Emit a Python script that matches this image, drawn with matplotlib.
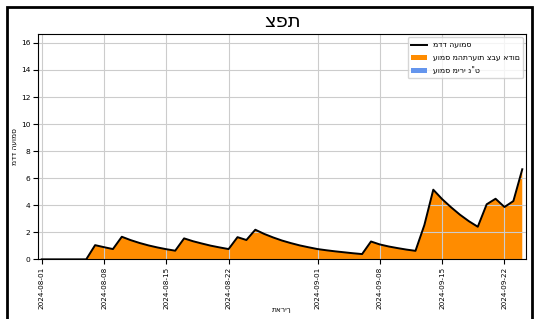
import pandas as pd
import numpy as np
import matplotlib
matplotlib.use("Agg")
import matplotlib.pyplot as plt
import matplotlib.dates as mdates
from matplotlib.patches import Rectangle

dates = pd.date_range("2024-08-01", "2024-09-24", freq="D")

# עומס מהתרעות צבע אדום (daily values)
red_alert = [0, 0, 0, 0, 0, 0,
             1.05, 0.9, 0.76, 1.67, 1.42, 1.21, 1.03, 0.88, 0.75, 0.64,
             1.55, 1.34, 1.17, 1.01, 0.88, 0.76,
             1.64, 1.43, 2.19, 1.88, 1.62, 1.39, 1.20, 1.03, 0.89, 0.76,
             0.67, 0.59, 0.52, 0.45, 0.39,
             1.32, 1.1, 0.95, 0.83, 0.72, 0.63,
             2.54, 5.15, 4.45, 3.85, 3.3, 2.82, 2.41,
             4.07, 4.48, 3.87, 4.31, 6.66]
# עומס מירי נ"ט
at_fire = [0] * len(red_alert)
load_index = [r + a for r, a in zip(red_alert, at_fire)]

fig = plt.figure(figsize=(5.36, 3.19), dpi=100)
ax = fig.add_axes([0.0709, 0.187, 0.9104, 0.706])

ax.stackplot(dates, red_alert, at_fire, colors=['#ff8c00', 'cornflowerblue'],
             labels=['עומס מהתרעות צבע אדום', 'עומס מירי נ"ט'])
ax.plot(dates, load_index, color='black', linewidth=1.4, label='מדד העומס')

ax.set_xlim(dates[0] - pd.Timedelta(hours=10), dates[-1] + pd.Timedelta(hours=10))
ax.set_ylim(0, 16.65)
ax.xaxis.set_major_locator(mdates.DayLocator(bymonthday=[1, 8, 15, 22]))
ax.xaxis.set_major_formatter(mdates.DateFormatter('%Y-%m-%d'))
ax.set_yticks(range(0, 17, 2))
ax.tick_params(axis='x', labelsize=5.2, rotation=90, pad=2)
ax.tick_params(axis='y', labelsize=5.4, pad=2)
ax.grid(True, color='#cccccc', linewidth=0.8)

ax.set_title('צפת', fontsize=14, pad=5)
ax.set_xlabel('תאריך', fontsize=5.4)
ax.xaxis.set_label_coords(0.5, -0.21)
ax.set_ylabel('מדד העומס', fontsize=5.4)
ax.yaxis.set_label_coords(-0.042, 0.5)

handles, labels = ax.get_legend_handles_labels()
order = [2, 0, 1]
ax.legend([handles[i] for i in order], [labels[i] for i in order],
          loc='upper right', fontsize=5.6, borderaxespad=0.4)

fig.add_artist(Rectangle((7 / 536, -0.05), 525 / 536, 1 - 7 / 319 + 0.05,
                         transform=fig.transFigure, fill=False,
                         edgecolor='black', linewidth=2))

fig.savefig('out.png', dpi=100)
